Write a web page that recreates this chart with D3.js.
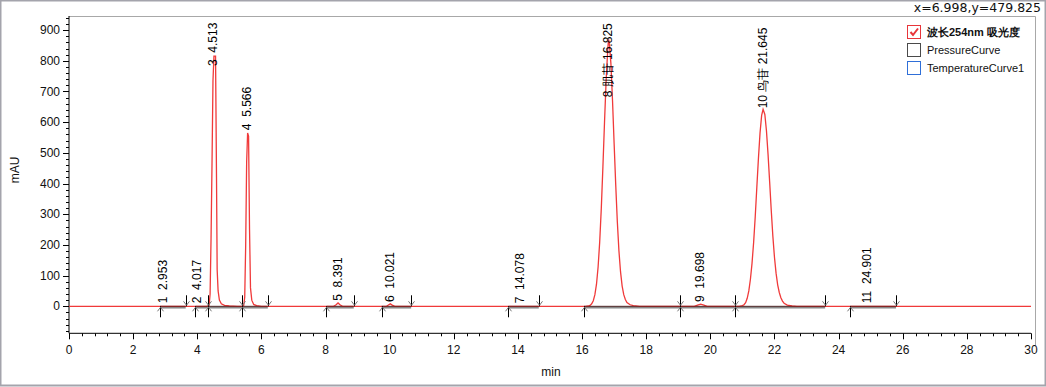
<!DOCTYPE html>
<html lang="zh">
<head>
<meta charset="UTF-8">
<title>Chromatogram</title>
<script src="https://d3js.org/d3.v7.min.js"></script>
<style>
  body { margin: 0; background: #fff; }
  svg { display: block; font-family: "Liberation Sans", Arial, sans-serif; }
  .tick-label { font-size: 12px; fill: #111; }
  .peak-label { font-size: 12px; fill: #000; white-space: pre; }
  .legend text { font-size: 11px; fill: #111; }
</style>
</head>
<body>
<div id="chart"></div>
<script>
  // peak table
  const peakNo    = [1, 2, 3, 4, 5, 6, 7, 8, 9, 10, 11];
  const peakName  = ["", "", "", "", "", "", "", "肌苷", "", "鸟苷", ""];
  const peakRT    = [2.953, 4.017, 4.513, 5.566, 8.391, 10.021, 14.078, 16.825, 19.698, 21.645, 24.901];
  const peakStart = [2.84, 3.94, 4.33, 5.39, 8.03, 9.75, 13.70, 16.06, 19.06, 20.76, 24.36];
  const peakEnd   = [3.64, 4.33, 5.39, 6.20, 8.88, 10.67, 14.65, 19.06, 20.76, 23.58, 25.79];
  const labelLevel = [10, 10, 783, 574, 18, 14, 10, 681, 14, 645, 10];   // mAU where the label starts

  // detector trace (min, mAU)
  const traceEdges = [[0, 0], [30, 0]];
  const trace3 = [[4.30,0],[4.37,3],[4.40,40],[4.43,222],[4.46,465],[4.49,735],[4.52,815],[4.57,815],[4.60,420],
                  [4.62,120],[4.65,50],[4.69,20],[4.75,8],[4.85,3],[5.00,1],[5.25,0]];
  const trace4 = [[5.40,0],[5.45,3],[5.48,30],[5.51,200],[5.54,470],[5.57,565],[5.60,555],[5.63,250],
                  [5.66,60],[5.70,20],[5.76,6],[5.85,2],[6.00,0]];
  const trace5 = [[8.25,0],[8.33,5],[8.39,11],[8.45,5],[8.53,0]];
  const trace6 = [[9.90,0],[9.96,4],[10.02,8],[10.08,4],[10.16,0]];
  const trace8 = [[16.10,0],[16.20,1],[16.25,3],[16.30,8],[16.35,18],[16.40,38],[16.45,72],[16.50,128],
                  [16.55,210],[16.60,320],[16.65,455],[16.70,600],[16.75,735],[16.80,835],[16.825,870],
                  [16.85,860],[16.90,790],[16.95,670],[17.00,530],[17.05,395],[17.10,275],[17.15,180],
                  [17.20,112],[17.25,66],[17.30,38],[17.35,22],[17.40,12],[17.50,5],[17.60,2],[17.80,0]];
  const trace9 = [[19.50,0],[19.60,4],[19.70,7],[19.80,4],[19.90,0]];
  const trace10 = [[20.90,0],[21.00,2],[21.05,5],[21.10,12],[21.15,26],[21.20,50],[21.25,88],[21.30,140],
                   [21.35,208],[21.40,292],[21.45,388],[21.50,482],[21.55,565],[21.60,622],[21.645,642],
                   [21.70,625],[21.75,572],[21.80,495],[21.85,405],[21.90,312],[21.95,228],[22.00,160],
                   [22.05,108],[22.10,70],[22.15,45],[22.20,28],[22.25,17],[22.30,10],[22.40,4],[22.55,1],[22.70,0]];

  const yTicks = [0, 100, 200, 300, 400, 500, 600, 700, 800, 900];
  const xTicks = [0, 2, 4, 6, 8, 10, 12, 14, 16, 18, 20, 22, 24, 26, 28, 30];

  const legendNames = ["波长254nm 吸光度", "PressureCurve", "TemperatureCurve1"];
  const legendColors = ["#e8353a", "#4a4a4a", "#2f6fd8"];

  const W = 1046, H = 387;
  const mLeft = 69, mRight = 1031, mTop = 16, mBottom = 333.3;

  const svg = d3.select("#chart").append("svg").attr("width", W).attr("height", H);

  // outer frame
  svg.append("rect").attr("x", 0.5).attr("y", 0.5).attr("width", W - 1).attr("height", H - 2)
    .attr("fill", "none").attr("stroke", "#a4a4ac").attr("stroke-width", 2);

  const x = d3.scaleLinear().domain([0, 30]).range([mLeft, mRight]);
  const y = d3.scaleLinear().domain([-88, 946]).range([mBottom, mTop]);

  // plot box lines (top + right)
  svg.append("path")
    .attr("d", `M${mLeft},${mTop + 0.5}H${mRight + 4.5}V${mBottom + 12}`)
    .attr("fill", "none").attr("stroke", "#a8a8a8");

  // y axis
  const yAxis = svg.append("g").attr("transform", `translate(${mLeft},0)`);
  yAxis.append("line").attr("y1", mTop).attr("y2", mBottom).attr("stroke", "#000");
  yAxis.selectAll(".minor").data(d3.range(-80, 941, 20)).enter().append("line")
    .attr("x1", d => yTicks.includes(d) ? -6 : -3).attr("x2", 0)
    .attr("y1", d => Math.round(y(d)) + 0.5).attr("y2", d => Math.round(y(d)) + 0.5)
    .attr("stroke", "#000");
  yAxis.selectAll(".tick-label").data(yTicks).enter().append("text")
    .attr("class", "tick-label").attr("x", -9).attr("y", d => y(d)).attr("dy", "0.35em")
    .attr("text-anchor", "end").text(d => d);

  // x axis
  const xAxis = svg.append("g").attr("transform", `translate(0,${mBottom})`);
  xAxis.append("line").attr("x1", mLeft).attr("x2", mRight).attr("stroke", "#000");
  xAxis.selectAll(".minor").data(d3.range(0, 150.5, 2).map(d => d / 5)).enter().append("line")
    .attr("x1", d => Math.round(x(d)) + 0.5).attr("x2", d => Math.round(x(d)) + 0.5)
    .attr("y1", 0).attr("y2", d => Math.abs(d / 2 - Math.round(d / 2)) < 1e-6 ? 6 : 3)
    .attr("stroke", "#000");
  xAxis.selectAll(".tick-label").data(xTicks).enter().append("text")
    .attr("class", "tick-label").attr("x", d => x(d)).attr("y", 21)
    .attr("text-anchor", "middle").text(d => d);

  svg.append("text").attr("class", "tick-label").attr("x", 551).attr("y", 376)
    .attr("text-anchor", "middle").text("min");
  svg.append("text").attr("class", "tick-label")
    .attr("transform", "translate(19,170) rotate(-90)")
    .attr("text-anchor", "middle").text("mAU");

  const y0 = y(0);

  // baseline segments under the trace
  svg.selectAll(".base").data(peakNo).enter().append("line")
    .attr("x1", (d, i) => x(peakStart[i])).attr("x2", (d, i) => x(peakEnd[i]))
    .attr("y1", y0 + 1).attr("y2", y0 + 1)
    .attr("stroke", "#888").attr("stroke-width", 2.5);

  // trace
  const trace = [].concat(traceEdges, trace3, trace4, trace5, trace6, trace8, trace9, trace10)
    .sort((a, b) => a[0] - b[0]);
  const line = d3.line().x(d => x(d[0])).y(d => y(d[1]));
  svg.append("path").datum(trace).attr("d", line)
    .attr("fill", "none").attr("stroke", "#f03a3a").attr("stroke-width", 1.3);

  // thin dark baseline on top
  svg.selectAll(".base2").data(peakNo).enter().append("line")
    .attr("x1", (d, i) => x(peakStart[i])).attr("x2", (d, i) => x(peakEnd[i]))
    .attr("y1", y0).attr("y2", y0)
    .attr("stroke", "#4a1818").attr("stroke-width", 1).attr("opacity", 0.8);

  // start markers (below, pointing up)
  const mk = svg.append("g");
  peakStart.forEach(t => {
    const px = Math.round(x(t)) + 0.5;
    mk.append("line").attr("x1", px).attr("x2", px).attr("y1", y0).attr("y2", y0 + 11).attr("stroke", "#000");
    mk.append("path").attr("d", `M${px - 3},${y0 + 5}L${px},${y0 + 1}L${px + 3},${y0 + 5}`)
      .attr("fill", "none").attr("stroke", "#777");
  });
  // end markers (above, pointing down)
  peakEnd.forEach(t => {
    const px = Math.round(x(t)) + 0.5;
    mk.append("line").attr("x1", px).attr("x2", px).attr("y1", y0 - 11).attr("y2", y0).attr("stroke", "#000");
    mk.append("path").attr("d", `M${px - 3},${y0 - 5}L${px},${y0 - 1}L${px + 3},${y0 - 5}`)
      .attr("fill", "none").attr("stroke", "#777");
  });

  // peak labels
  svg.selectAll(".peak-label").data(peakNo).enter().append("text")
    .attr("class", "peak-label")
    .attr("transform", (d, i) => `translate(${x(peakRT[i]) + 3.5},${y(labelLevel[i])}) rotate(-90)`)
    .text((d, i) => peakName[i] ? `${d} ${peakName[i]} ${peakRT[i].toFixed(3)}` : `${d}  ${peakRT[i].toFixed(3)}`);

  // cursor readout
  svg.append("text").attr("x", 1041).attr("y", 12).attr("text-anchor", "end")
    .style("font-family", "'DejaVu Sans', sans-serif").style("font-size", "12.5px")
    .attr("fill", "#111").text("x=6.998,y=479.825");

  // legend
  const lg = svg.append("g").attr("class", "legend").attr("transform", "translate(907,25)");
  legendNames.forEach((name, i) => {
    const g = lg.append("g").attr("transform", `translate(0,${i * 18})`);
    g.append("rect").attr("x", 0.5).attr("y", 0.5).attr("width", 13).attr("height", 13)
      .attr("fill", "#fff").attr("stroke", legendColors[i]);
    if (i === 0) {
      g.append("path").attr("d", "M3.5,7 L6,10 L11,3.5").attr("fill", "none")
        .attr("stroke", legendColors[i]).attr("stroke-width", 2);
    }
    g.append("text").attr("x", 20).attr("y", 7).attr("dy", "0.35em")
      .style("font-weight", i === 0 ? "bold" : "normal").text(name);
  });
</script>
</body>
</html>
